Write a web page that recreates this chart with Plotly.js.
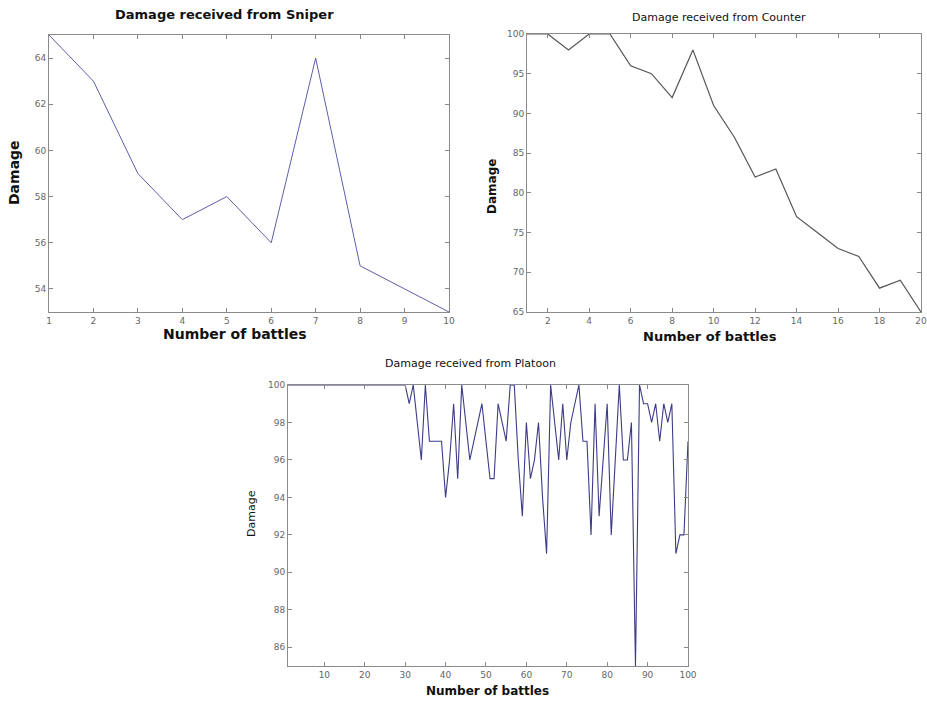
<!DOCTYPE html>
<html>
<head>
<meta charset="utf-8">
<script src="https://cdn.plot.ly/plotly-3.0.1.min.js"></script>
<style>html,body{margin:0;padding:0;background:#fff;}#chart{width:927px;height:701px;}</style>
</head>
<body>
<div id="chart"></div>
<script>
// ---- Data ----
const sniperBattles = [1,2,3,4,5,6,7,8,9,10];
const sniperDamage  = [65,63,59,57,58,56,64,55,54,53];

const counterBattles = [1,2,3,4,5,6,7,8,9,10,11,12,13,14,15,16,17,18,19,20];
const counterDamage  = [100,100,98,100,100,96,95,92,98,91,87,82,83,77,75,73,72,68,69,65];

const platoonBattles = [];
for (let i = 1; i <= 100; i++) platoonBattles.push(i);
const platoonDamage = [
  100,100,100,100,100,100,100,100,100,100,
  100,100,100,100,100,100,100,100,100,100,
  100,100,100,100,100,100,100,100,100,100,
  99,100,98,96,100,97,97,97,97,94,
  96,99,95,100,98,96,97,98,99,97,
  95,95,99,98,97,100,100,96,93,98,
  95,96,98,94,91,100,98,96,99,96,
  98,99,100,97,97,92,99,93,96,99,
  92,96,100,96,96,98,85,100,99,99,
  98,99,97,99,98,99,91,92,92,97
];

const sniperTicks  = [1,2,3,4,5,6,7,8,9,10];
const counterTicks = [2,4,6,8,10,12,14,16,18,20];
const platoonTicks = [10,20,30,40,50,60,70,80,90,100];

// ---- Titles ----
const W = 927, H = 701;
function px(x){ return x / W; }
function py(y){ return 1 - y / H; }

const axisBase = {
  showgrid: false, zeroline: false, showline: true, linecolor: '#8a8a8a', linewidth: 1,
  mirror: 'allticks', ticks: 'inside', ticklen: 4, tickcolor: '#8a8a8a',
  tickfont: {family: 'DejaVu Sans', size: 9, color: '#666'}
};

const traces = [
  {x: sniperBattles, y: sniperDamage, type: 'scatter', mode: 'lines',
   line: {color: '#5e5eaa', width: 1}, xaxis: 'x', yaxis: 'y', hoverinfo: 'x+y'},
  {x: counterBattles, y: counterDamage, type: 'scatter', mode: 'lines',
   line: {color: '#555555', width: 1.2}, xaxis: 'x2', yaxis: 'y2'},
  {x: platoonBattles, y: platoonDamage, type: 'scatter', mode: 'lines',
   line: {color: '#3c3c88', width: 1.1}, xaxis: 'x3', yaxis: 'y3'}
];

function ann(text, x, y, size, bold, angle){
  return {text: bold ? '<b>'+text+'</b>' : text, xref: 'paper', yref: 'paper',
    x: px(x), y: py(y), xanchor: 'center', yanchor: 'middle', showarrow: false,
    textangle: angle || 0, font: {family: 'DejaVu Sans', size: size, color: '#111'}};
}

const layout = {
  width: W, height: H, margin: {l:0, r:0, t:0, b:0},
  paper_bgcolor: '#fff', plot_bgcolor: '#fff', showlegend: false,
  xaxis:  Object.assign({}, axisBase, {domain: [px(49), px(449)], range: [1,10], tickvals: sniperTicks, anchor: 'y'}),
  yaxis:  Object.assign({}, axisBase, {domain: [py(312), py(35)], range: [53,65], dtick: 2, tick0: 54, anchor: 'x'}),
  xaxis2: Object.assign({}, axisBase, {domain: [px(527), px(921)], range: [1,20], tickvals: counterTicks, anchor: 'y2'}),
  yaxis2: Object.assign({}, axisBase, {domain: [py(312), py(34)], range: [65,100], dtick: 5, tick0: 65, anchor: 'x2'}),
  xaxis3: Object.assign({}, axisBase, {domain: [px(288), px(688)], range: [1,100], tickvals: platoonTicks, anchor: 'y3'}),
  yaxis3: Object.assign({}, axisBase, {domain: [py(666), py(385)], range: [85,100], dtick: 2, tick0: 86, anchor: 'x3'}),
  annotations: [
    ann('Damage received from Sniper', 224, 15, 13, true),
    ann('Damage', 14, 173, 14, true, -90),
    ann('Number of battles', 235, 334, 14, true),
    ann('Damage received from Counter', 719, 17, 11, false),
    ann('Damage', 492, 187, 12, true, -90),
    ann('Number of battles', 710, 336, 13, true),
    ann('Damage received from Platoon', 471, 363, 11, false),
    ann('Damage', 251, 514, 11, false, -90),
    ann('Number of battles', 487, 691, 12, true)
  ]
};

Plotly.newPlot('chart', traces, layout, {displayModeBar: false, staticPlot: true});
</script>
</body>
</html>
